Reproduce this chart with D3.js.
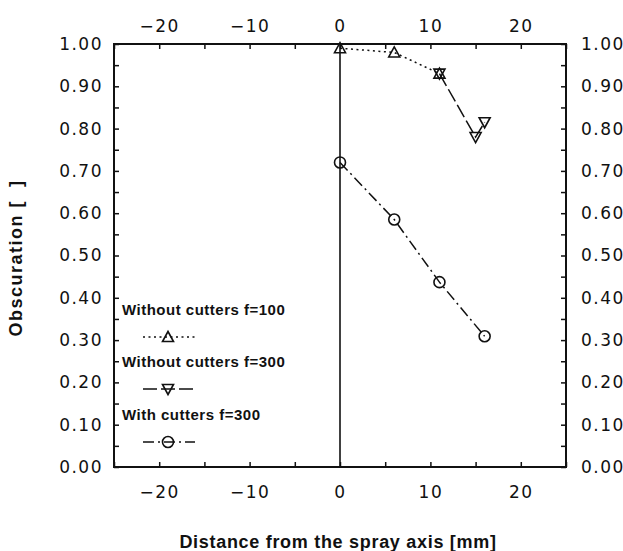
<!DOCTYPE html>
<html>
<head>
<meta charset="utf-8">
<script src="https://cdn.jsdelivr.net/npm/d3@7"></script>
<style>
  body { margin: 0; background: #fff; }
  .tick text { font-family: "DejaVu Sans", sans-serif; font-size: 17px; letter-spacing: 1.5px; fill: #111; }
  .tick line { stroke: #111; stroke-width: 1.5; }
  .lab { font-family: "Liberation Sans", Arial, sans-serif; font-weight: bold; fill: #111; }
</style>
</head>
<body>
<div id="chart"></div>
<script>
// data
var xF100 = [0, 6, 11];
var yF100 = [0.99, 0.98, 0.93];
var xF300 = [11, 15, 16];
var yF300 = [0.93, 0.78, 0.815];
var xCut = [0, 6, 11, 16];
var yCut = [0.72, 0.585, 0.437, 0.309];
var xTicks = [-25, -20, -15, -10, -5, 0, 5, 10, 15, 20, 25];
var xLabels = [-20, -10, 0, 10, 20];
var legendNames = ["Without cutters f=100", "Without cutters f=300", "With cutters f=300"];

var width = 623, height = 551;
var margin = ({top: 44, right: 57, bottom: 84, left: 114});

var x = d3.scaleLinear().domain([-25, 25]).range([margin.left, width - margin.right]);
var y = d3.scaleLinear().domain([0, 1]).range([height - margin.bottom, margin.top]);
var yTicks = d3.range(0, 1.0001, 0.05);

var svg = d3.select('#chart').append('svg')
    .attr('width', width)
    .attr('height', height);

// axes, ticks pointing inward
function fmtX(d) { return xLabels.indexOf(d) >= 0 ? d3.format('')(d) : ''; }
function fmtY(d) { return Math.round(d * 100) % 10 === 0 ? d3.format('.2f')(d) : ''; }

svg.append('g')
    .attr('transform', `translate(0,${y(0)})`)
    .call(d3.axisBottom(x).tickValues(xTicks).tickSize(-5).tickPadding(19).tickFormat(fmtX));
svg.append('g')
    .attr('transform', `translate(0,${y(1)})`)
    .call(d3.axisTop(x).tickValues(xTicks).tickSize(-5).tickPadding(12).tickFormat(fmtX));
svg.append('g')
    .attr('transform', `translate(${x(-25)},0)`)
    .call(d3.axisLeft(y).tickValues(yTicks).tickSize(-5).tickPadding(11).tickFormat(fmtY));
svg.append('g')
    .attr('transform', `translate(${x(25)},0)`)
    .call(d3.axisRight(y).tickValues(yTicks).tickSize(-5).tickPadding(15).tickFormat(fmtY));
svg.selectAll('.domain').remove();

// frame
svg.append('rect')
    .attr('x', x(-25)).attr('y', y(1))
    .attr('width', x(25) - x(-25)).attr('height', y(0) - y(1))
    .attr('fill', 'none').attr('stroke', '#111').attr('stroke-width', 2);

// spray axis
svg.append('line')
    .attr('x1', x(0)).attr('x2', x(0))
    .attr('y1', y(0)).attr('y2', y(1))
    .attr('stroke', '#111').attr('stroke-width', 1.6);

var line = d3.line().x(d => x(d[0])).y(d => y(d[1]));
var triUp = 'M0,-5.5L5.5,4.5L-5.5,4.5Z';
var triDown = 'M0,5.5L5.5,-4.5L-5.5,-4.5Z';

var series = [
  {xs: xF100, ys: yF100, dash: '2,3.5', mark: 'up'},
  {xs: xF300, ys: yF300, dash: '14,4', mark: 'down'},
  {xs: xCut, ys: yCut, dash: '11,4,2,4', mark: 'circle'}
];

function marker(g, kind) {
  if (kind === 'circle') {
    g.append('circle').attr('r', 5.5);
  } else {
    g.append('path').attr('d', kind === 'up' ? triUp : triDown);
  }
  g.selectAll('*').attr('fill', 'none').attr('stroke', '#111').attr('stroke-width', 1.6);
}

series.forEach(function(s) {
  var pts = s.xs.map((v, i) => [v, s.ys[i]]);
  svg.append('path')
      .attr('d', line(pts))
      .attr('fill', 'none')
      .attr('stroke', '#111')
      .attr('stroke-width', 1.5)
      .attr('stroke-dasharray', s.dash);
  pts.forEach(function(p) {
    var g = svg.append('g').attr('transform', `translate(${x(p[0])},${y(p[1])})`);
    marker(g, s.mark);
  });
});

// legend
var legY = [310, 362, 415];
legendNames.forEach(function(name, i) {
  svg.append('text')
      .attr('class', 'lab')
      .attr('x', 122)
      .attr('y', legY[i] + 5)
      .attr('font-size', 15)
      .attr('letter-spacing', 0.5)
      .text(name);
  var sy = legY[i] + 27;
  svg.append('line')
      .attr('x1', 143).attr('x2', 195)
      .attr('y1', sy).attr('y2', sy)
      .attr('stroke', '#111').attr('stroke-width', 1.5)
      .attr('stroke-dasharray', series[i].dash);
  var g = svg.append('g').attr('transform', `translate(168,${sy})`);
  marker(g, series[i].mark);
});

// axis titles
svg.append('text')
    .attr('class', 'lab')
    .attr('x', 338)
    .attr('y', 548)
    .attr('text-anchor', 'middle')
    .attr('font-size', 18)
    .attr('letter-spacing', 0.7)
    .text('Distance from the spray axis [mm]');

svg.append('text')
    .attr('class', 'lab')
    .attr('transform', 'translate(22,258) rotate(-90)')
    .attr('text-anchor', 'middle')
    .attr('font-size', 18)
    .attr('letter-spacing', 1.5)
    .text('Obscuration [\u00a0\u00a0]');
</script>
</body>
</html>
